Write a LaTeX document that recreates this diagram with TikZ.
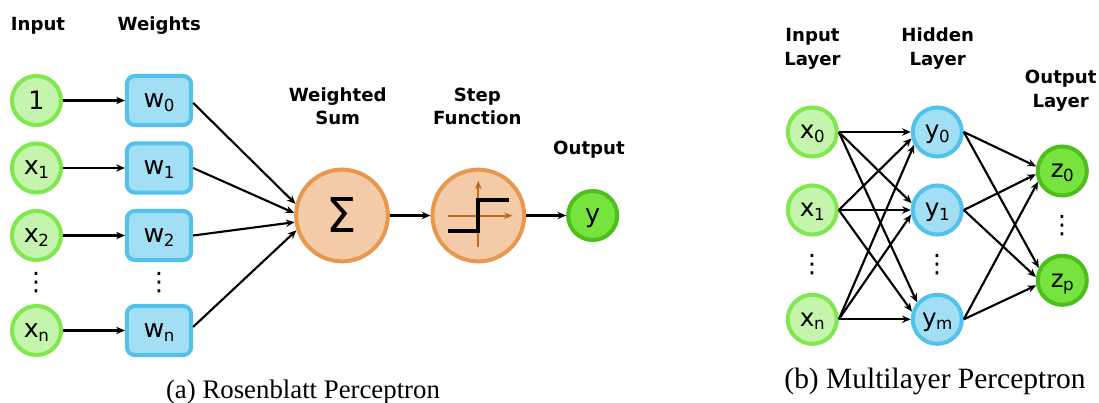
\documentclass[tikz,border=0pt]{standalone}
\usepackage{fontspec}
\setmainfont{DejaVu Sans}
\newfontfamily\capfont{Liberation Serif}
\usetikzlibrary{arrows.meta}
\newcommand{\sbs}[1]{\kern-0.4pt\raisebox{-2.8pt}[0pt][0pt]{\fontsize{12.5}{13}\selectfont #1}}
\tikzset{
  x=0.75pt,y=-0.75pt,
  nodebase/.style={inner sep=0pt,line width=3pt,text depth=0pt,font=\fontsize{19}{21}\selectfont},
  inp/.style={nodebase,circle,minimum size=36.8pt,draw=inE,fill=inF},
  wgt/.style={nodebase,rectangle,rounded corners=6pt,minimum width=48.2pt,minimum height=36.8pt,draw=hiE,fill=hiF},
  hid/.style={nodebase,circle,minimum size=36.8pt,draw=hiE,fill=hiF},
  outnode/.style={nodebase,circle,minimum size=36.8pt,draw=ouE,fill=ouF},
  bignode/.style={nodebase,circle,minimum size=68.8pt,draw=orE,fill=orF},
  rightsize/.style={font=\fontsize{18.5}{20}\selectfont},
  ttl/.style={inner sep=0pt,align=center,font=\bfseries\fontsize{13.6}{17.4}\selectfont},
  ttlr/.style={inner sep=0pt,align=center,font=\bfseries\fontsize{13.6}{18}\selectfont},
  capt/.style={inner sep=0pt,anchor=base,font=\capfont\fontsize{20.1}{22}\selectfont},
  dts/.style={inner sep=0pt,font=\fontsize{19}{21}\selectfont},
  arr/.style={line width=1.6pt,-{Stealth[length=6.5pt,width=5.5pt]}},
  axisline/.style={line width=1.5pt,draw=axC,-{Stealth[length=6.5pt,width=5pt]}},
  stepline/.style={line width=2.8pt,line cap=butt,line join=miter}
}
\definecolor{inE}{HTML}{7FE84E}\definecolor{inF}{HTML}{C5F4AC}
\definecolor{hiE}{HTML}{52C1EC}\definecolor{hiF}{HTML}{A2DFF5}
\definecolor{orE}{HTML}{E8974E}\definecolor{orF}{HTML}{F4CBA9}
\definecolor{ouE}{HTML}{4DBE1B}\definecolor{ouF}{HTML}{76E33F}
\definecolor{axC}{HTML}{C06A1E}
\begin{document}
\begin{tikzpicture}
\useasboundingbox (0,0) rectangle (1099,403);
% Left
\node[ttl] (tinp) at (38,25.7) {Input};
\node[ttl] (twgt) at (159.3,25.7) {Weights};
\node[ttl] (tsum) at (337.7,106) {Weighted\\Sum};
\node[ttl] (tstp) at (477.3,106) {Step\\Function};
\node[ttl] (tout) at (589,149.5) {Output};
\node[inp,font=\fontsize{19}{21}\selectfont] (i0) at (36.5,100.5) {1};
\node[inp] (i1) at (36.5,168) {x\sbs{1}};
\node[inp] (i2) at (36.5,235.5) {x\sbs{2}};
\node[inp] (i3) at (36.5,330.5) {x\sbs{n}};
\node[dts] (d1) at (36,283) {⋮};
\node[wgt] (w0) at (159,100.5) {w\sbs{0}};
\node[wgt] (w1) at (159,168) {w\sbs{1}};
\node[wgt] (w2) at (159,235.5) {w\sbs{2}};
\node[wgt] (w3) at (159,330.5) {w\sbs{n}};
\node[dts] (d2) at (159,283) {⋮};
\node[bignode,font=\fontsize{36}{38}\selectfont] (sum) at (342,215.5) {Σ};
\node[bignode] (stp) at (478.3,215.5) {};
\node[outnode] (res) at (592.7,215.5) {y};
\coordinate (a1) at (478.3,246.7);
\coordinate (a2) at (478.3,180.7);
\coordinate (a3) at (447.7,215.7);
\coordinate (a4) at (512.7,215.7);
\coordinate (s1) at (447.7,231);
\coordinate (s2) at (478.3,231);
\coordinate (s3) at (478.3,200.3);
\coordinate (s4) at (509,200.3);
\draw[axisline] (a1) -- (a2);
\draw[axisline] (a3) -- (a4);
\draw[stepline] (s1) -- (s2) -- (s3) -- (s4);
\draw[arr] (i0) -- (w0);
\draw[arr] (i1) -- (w1);
\draw[arr] (i2) -- (w2);
\draw[arr] (i3) -- (w3);
\draw[arr] (w0.-4) -- (sum.166);
\draw[arr] (w1.east) -- (sum.177);
\draw[arr] (w2.east) -- (sum.188);
\draw[arr] (w3.6) -- (sum.198);
\draw[arr] (sum) -- (stp);
\draw[arr] (stp) -- (res);
% Right
\node[ttlr] (tb1) at (812.5,48.5) {Input\\Layer};
\node[ttlr] (tb2) at (937.7,48.5) {Hidden\\Layer};
\node[ttlr] (tb3) at (1060.7,91) {Output\\Layer};
\node[inp,rightsize] (x0) at (812.3,132) {x\sbs{0}};
\node[inp,rightsize] (x1) at (812.3,210) {x\sbs{1}};
\node[inp,rightsize] (xn) at (812.3,319.3) {x\sbs{n}};
\node[hid,rightsize] (y0) at (937.3,132) {y\sbs{0}};
\node[hid,rightsize] (y1) at (937.3,210) {y\sbs{1}};
\node[hid,rightsize] (ym) at (937.3,319.3) {y\sbs{m}};
\node[outnode,rightsize] (z0) at (1062.3,171) {z\sbs{0}};
\node[outnode,rightsize] (zp) at (1062.3,280.3) {z\sbs{p}};
\node[dts] (d3) at (812,265) {⋮};
\node[dts] (d4) at (937,265) {⋮};
\node[dts] (d5) at (1062,226) {⋮};
\draw[arr] (x0.east) -- (y0.west);
\draw[arr] (x0.east) -- (y1.165);
\draw[arr] (x0.east) -- (ym.140);
\draw[arr] (x1.east) -- (y0.194);
\draw[arr] (x1.east) -- (y1.west);
\draw[arr] (x1.east) -- (ym.163);
\draw[arr] (xn.east) -- (y0.209);
\draw[arr] (xn.east) -- (y1.190);
\draw[arr] (xn.east) -- (ym.west);
\draw[arr] (y0.east) -- (z0.170);
\draw[arr] (y0.east) -- (zp.152);
\draw[arr] (y1.east) -- (z0.187);
\draw[arr] (y1.east) -- (zp.173);
\draw[arr] (ym.east) -- (z0.204);
\draw[arr] (ym.east) -- (zp.191);
% Captions
\node[capt] (ca) at (303,398) {(a) Rosenblatt Perceptron};
\node[capt,font=\capfont\fontsize{22.1}{24}\selectfont] (cb) at (935,388) {(b) Multilayer Perceptron};
\end{tikzpicture}
\end{document}
